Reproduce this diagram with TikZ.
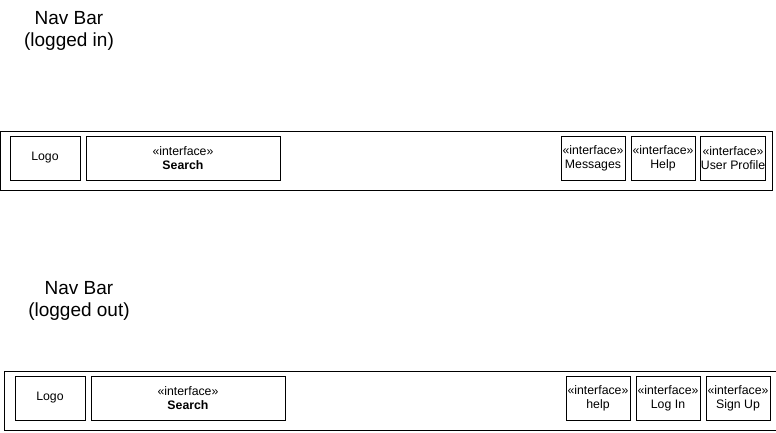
\documentclass[tikz,border=0pt]{standalone}
\usepackage{fontspec}
\setmainfont{Liberation Sans}
\usetikzlibrary{positioning}

\begin{document}
\begin{tikzpicture}[
    x=1pt,y=-1pt,
    bar/.style={draw,minimum width=772pt,minimum height=59pt,inner sep=0pt,line width=0.9pt},
    box/.style={draw,minimum width=70pt,minimum height=44pt,inner sep=0pt,align=center,font=\fontsize{12.3}{14}\selectfont,line width=0.9pt},
    iface/.style={box,minimum width=64pt},
    title/.style={align=center,font=\fontsize{19}{22}\selectfont}
]
\useasboundingbox (0,0) rectangle (776,432);
% logged in
\node[title] (titlein) at (69,31) {Nav Bar\\(logged in)};
\node[bar] (barin) at (386,160.5) {};
\node[box] (logoin) at (45,158) {Logo};
\node[box,minimum width=194pt] (searchin) at (183,158) {«interface»\\\textbf{Search}};
\node[iface] (msgin) at (593,158) {«interface»\\Messages};
\node[iface] (helpin) at (663,158) {«interface»\\Help};
\node[iface] (profin) at (733,158) {«interface»\\User Profile};
% logged out
\node[title] (titleout) at (79,301) {Nav Bar\\(logged out)};
\node[bar] (barout) at (390,400.5) {};
\node[box] (logoout) at (50,398) {Logo};
\node[box,minimum width=194pt] (searchout) at (188,398) {«interface»\\\textbf{Search}};
\node[iface] (helpout) at (598,398) {«interface»\\help};
\node[iface] (loginout) at (668,398) {«interface»\\Log In};
\node[iface] (signout) at (738,398) {«interface»\\Sign Up};
\end{tikzpicture}
\end{document}
